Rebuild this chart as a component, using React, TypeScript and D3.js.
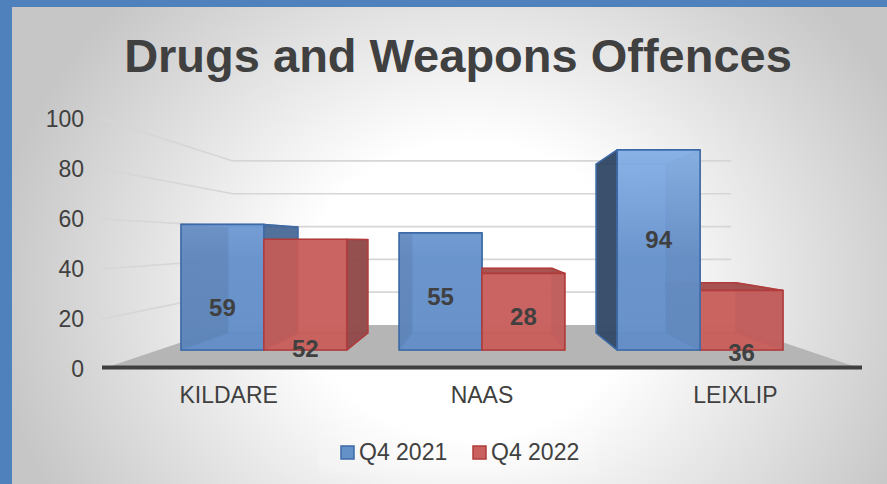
import React from 'react';
import * as d3 from 'd3';

// ---- data ----
const categories = ['KILDARE', 'NAAS', 'LEIXLIP'];
const seriesNames = ['Q4 2021', 'Q4 2022'];
const q4_2021 = [59, 55, 94];
const q4_2022 = [52, 36, 28]; // bar heights as drawn
const q4_2021Labels = ['59', '55', '94'];
const q4_2022Labels = ['52', '28', '36']; // label text as printed
const yTicks = [0, 20, 40, 60, 80, 100];
// manual data-label anchors (value units along each bar)
const labelAnchor2021 = [20, 25, 52];
const labelAnchor2022 = [1, 16, -1.3];

// ---- layout ----
const W = 887;
const H = 484;
const VP = { x: 482, y: 241 };
const S_FLOOR_FRONT = 1;
const S_FLOOR_BACK = 0.656;
const S_BAR_FRONT = 0.852;
const S_BAR_BACK = 0.719;
const FONT = 'Liberation Sans, Arial, sans-serif';
const TEXT = '#404040';

const yFront = d3.scaleLinear().domain([0, 100]).range([369, 119]);
const floorX: [number, number] = [102, 862];
const xGroup = d3.scaleBand<string>().domain(categories).range([98, 866]).paddingInner(0.24).paddingOuter(0.12);
const xSeries = d3.scaleBand<string>().domain(seriesNames).range([0, xGroup.bandwidth()]);
const xLabel = d3.scaleBand<string>().domain(categories).range(floorX);

const project = (X: number, Y: number, s: number): [number, number] => [
  VP.x + s * (X - VP.x),
  VP.y + s * (Y - VP.y),
];
const poly = (pts: [number, number][]) =>
  'M' + pts.map((p) => `${p[0].toFixed(2)},${p[1].toFixed(2)}`).join('L') + 'Z';

const palette: Record<string, any> = {
  'Q4 2021': {
    front: 'url(#blueFront)', back: '#6590c8', bottom: '#5a83ba', left: '#33455e', right: '#4c6a93',
    top: '#5b84bd', edge: '#3d6aa6', legend: '#6591c9',
  },
  'Q4 2022': {
    front: '#c9625f', back: '#c0605e', bottom: '#b85a58', left: '#7d3a3c', right: '#8d4a4b',
    top: '#a54f4e', edge: '#b03d3c', legend: '#c9625f',
  },
};

type Bar = {
  cat: string; series: string; value: number; label: string; anchor: number; X0: number; X1: number;
};

const bars: Bar[] = [];
categories.forEach((c, i) => {
  const g = xGroup(c)!;
  bars.push({ cat: c, series: seriesNames[0], value: q4_2021[i], label: q4_2021Labels[i], anchor: labelAnchor2021[i],
    X0: g + xSeries(seriesNames[0])!, X1: g + xSeries(seriesNames[0])! + xSeries.bandwidth() });
  bars.push({ cat: c, series: seriesNames[1], value: q4_2022[i], label: q4_2022Labels[i], anchor: labelAnchor2022[i],
    X0: g + xSeries(seriesNames[1])!, X1: g + xSeries(seriesNames[1])! + xSeries.bandwidth() });
});

const drawOrder = [...bars].sort(
  (a, b) => Math.abs((b.X0 + b.X1) / 2 - VP.x) - Math.abs((a.X0 + a.X1) / 2 - VP.x)
);

function BarShape({ b }: { b: Bar }) {
  const col = palette[b.series];
  const yt = yFront(b.value);
  const yb = yFront(0);
  const f = S_BAR_FRONT;
  const k = S_BAR_BACK;
  const FTL = project(b.X0, yt, f), FTR = project(b.X1, yt, f), FBR = project(b.X1, yb, f), FBL = project(b.X0, yb, f);
  const BTL = project(b.X0, yt, k), BTR = project(b.X1, yt, k), BBR = project(b.X1, yb, k), BBL = project(b.X0, yb, k);
  const faces = {
    back: [BTL, BTR, BBR, BBL],
    bottom: [FBL, FBR, BBR, BBL],
    left: [FTL, BTL, BBL, FBL],
    right: [FTR, BTR, BBR, FBR],
    top: [FTL, FTR, BTR, BTL],
    front: [FTL, FTR, FBR, FBL],
  } as Record<string, [number, number][]>;
  const leftVis = b.X0 > VP.x;
  const rightVis = b.X1 < VP.x;
  const topVis = yt > VP.y;
  const hidden = ['back', 'bottom'];
  const visible: string[] = [];
  (leftVis ? visible : hidden).push('left');
  (rightVis ? visible : hidden).push('right');
  (topVis ? visible : hidden).push('top');
  return (
    <g>
      {hidden.map((n) => (
        <path key={n} d={poly(faces[n])} fill={col[n]} fillOpacity={0.9} stroke={col.edge} strokeOpacity={0.55} strokeWidth={1.2} strokeLinejoin="round" />
      ))}
      {visible.map((n) => (
        <path key={n} d={poly(faces[n])} fill={col[n]} fillOpacity={0.88} stroke={col.edge} strokeWidth={1.5} strokeLinejoin="round" />
      ))}
      <path d={poly(faces.front)} fill={col.front} fillOpacity={0.84} stroke={col.edge} strokeWidth={1.6} strokeLinejoin="round" />
    </g>
  );
}

export default function App() {
  const floorPts: [number, number][] = [
    project(floorX[0], yFront(0), S_FLOOR_FRONT),
    project(floorX[1], yFront(0), S_FLOOR_FRONT),
    project(floorX[1], yFront(0), S_FLOOR_BACK),
    project(floorX[0], yFront(0), S_FLOOR_BACK),
  ];
  return (
    <svg width={W} height={H} style={{ position: 'absolute', left: 0, top: 0, display: 'block' }} fontFamily={FONT}>
      <defs>
        <radialGradient id="bg" gradientUnits="userSpaceOnUse" cx={0} cy={0} r={1}
          gradientTransform="translate(470,290) scale(480,420)">
          <stop offset="0" stopColor="#ffffff" />
          <stop offset="0.35" stopColor="#ffffff" />
          <stop offset="1" stopColor="#c6c6c6" />
        </radialGradient>
        <linearGradient id="blueFront" gradientUnits="userSpaceOnUse" x1={0} y1={149} x2={0} y2={350}>
          <stop offset="0" stopColor="#8fb9ee" />
          <stop offset="0.55" stopColor="#6993cc" />
          <stop offset="1" stopColor="#6590c8" />
        </linearGradient>
      </defs>
      <rect x={0} y={0} width={W} height={H} fill="#4f81bd" />
      <rect x={12} y={7} width={W - 12} height={H - 7} fill="url(#bg)" />

      <text x={458} y={72} textAnchor="middle" fontSize={47} fontWeight="bold" fill={TEXT}>
        Drugs and Weapons Offences
      </text>

      {/* gridlines: left wall + back wall */}
      {yTicks.filter((t) => t > 0).map((t) => {
        const a = project(floorX[0], yFront(t), S_FLOOR_FRONT);
        const b = project(floorX[0], yFront(t), S_FLOOR_BACK);
        const c = project(floorX[1], yFront(t), S_FLOOR_BACK);
        return (
          <path key={t} d={`M${a[0]},${a[1]}L${b[0]},${b[1]}L${c[0]},${c[1]}`} fill="none" stroke="#d6d6d6" strokeWidth={1.7} />
        );
      })}

      {/* tick labels */}
      {yTicks.map((t) => (
        <text key={t} x={84} y={yFront(t)} dy="0.36em" textAnchor="end" fontSize={23} fill={TEXT}>
          {t}
        </text>
      ))}

      {/* floor */}
      <path d={poly(floorPts)} fill="#b5b5b5" />
      <line x1={floorX[0]} x2={floorX[1]} y1={yFront(0) - 1.5} y2={yFront(0) - 1.5} stroke="#3f3f3f" strokeWidth={4} />

      {/* bars */}
      {drawOrder.map((b) => (
        <BarShape key={b.cat + b.series} b={b} />
      ))}

      {/* data labels */}
      {bars.map((b) => {
        const p = project((b.X0 + b.X1) / 2, yFront(b.anchor), S_BAR_FRONT);
        return (
          <text key={'l' + b.cat + b.series} x={p[0]} y={p[1]} dy="0.36em" textAnchor="middle" fontSize={24} fontWeight="bold" fill={TEXT}>
            {b.label}
          </text>
        );
      })}

      {/* category labels */}
      {categories.map((c) => (
        <text key={c} x={xLabel(c)! + xLabel.bandwidth() / 2} y={403} textAnchor="middle" fontSize={23} fill={TEXT}>
          {c}
        </text>
      ))}

      {/* legend */}
      <rect x={318} y={432} width={279} height={41} fill="#ffffff" fillOpacity={0.15} />
      {seriesNames.map((s, i) => {
        const x0 = 341 + i * 132;
        return (
          <g key={s}>
            <rect x={x0} y={446} width={13} height={13} fill={palette[s].legend} stroke={palette[s].edge} strokeWidth={1.5} />
            <text x={x0 + 18} y={460} fontSize={23} fill={TEXT}>
              {s}
            </text>
          </g>
        );
      })}
    </svg>
  );
}
